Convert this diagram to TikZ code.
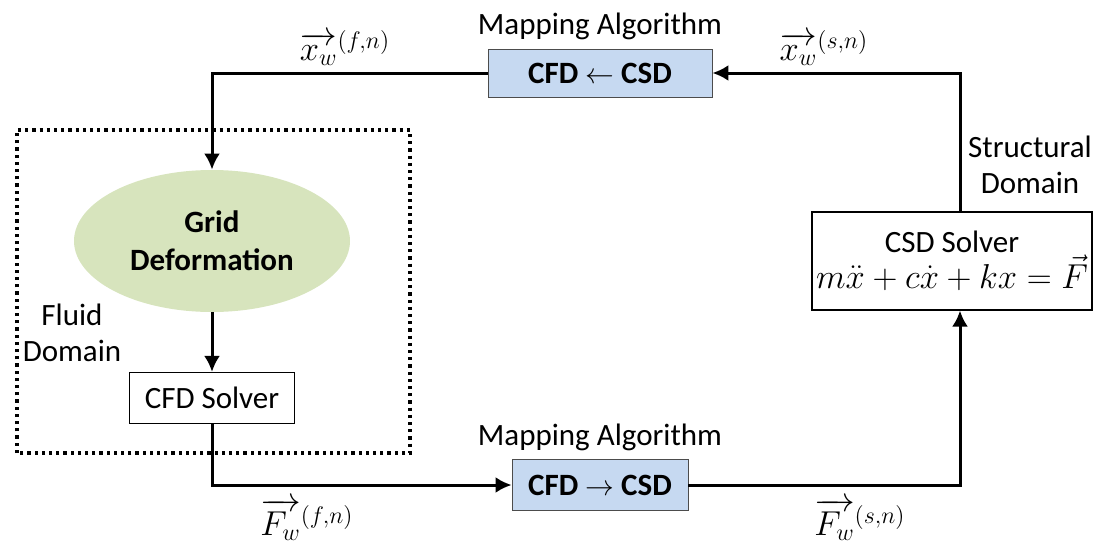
\documentclass[tikz,border=0pt]{standalone}
\usepackage{amsmath}
\usepackage{fontspec}
\setmainfont{Carlito}
\usetikzlibrary{arrows.meta,positioning,shapes.geometric}
\definecolor{mapblue}{RGB}{198,217,241}
\definecolor{gridgreen}{RGB}{215,228,189}

\begin{document}
\begin{tikzpicture}[x=0.5pt,y=0.5pt,
  every node/.style={font=\fontsize{15.5}{18}\selectfont,align=center,inner sep=2pt},
  flow/.style={-{Latex[length=8pt,width=8pt]},line width=1.5pt},
  mapbox/.style={draw=black!70,fill=mapblue,font=\fontsize{15.5}{18}\selectfont\bfseries,minimum height=24pt},
  solverbox/.style={draw,fill=white,line width=0.6pt},
  veclabel/.style={font=\fontsize{17.5}{20}\selectfont}]
\useasboundingbox (0,0) rectangle (1094,543);
% fluid domain
\draw[dotted,line width=1.6pt] (17,90) rectangle (410,413);
\node[ellipse,fill=gridgreen,minimum width=138pt,minimum height=71pt,font=\fontsize{15.5}{19}\selectfont\bfseries] (grid) at (212,302) {Grid\\Deformation};
\node[solverbox,minimum width=82.5pt,minimum height=25.5pt] (cfd) at (212,145) {CFD Solver};
\node (fluid) at (72,210) {Fluid\\Domain};
% structural domain
\node[solverbox,minimum width=140pt,minimum height=49pt] (csd) at (952,282) {CSD Solver\\{\fontsize{17}{20}\selectfont$m\ddot{x}+c\dot{x}+kx=\vec{F}$}};
\node (struct) at (1030,378) {Structural\\Domain};
% mapping
\node[mapbox,minimum width=112pt] (mapL) at (600,470) {CFD $\leftarrow$ CSD};
\node[mapbox,minimum width=88pt,minimum height=25.5pt] (mapR) at (600,58) {CFD $\rightarrow$ CSD};
\node[above=2pt of mapL] (algL) {Mapping Algorithm};
\node[above=2pt of mapR] (algR) {Mapping Algorithm};
% vector labels
\node[veclabel] (xf) at (345,495) {$\overrightarrow{x_w}^{(f,n)}$};
\node[veclabel] (xs) at (824,495) {$\overrightarrow{x_w}^{(s,n)}$};
\node[veclabel] (Ff) at (307,23) {$\overrightarrow{F_w}^{(f,n)}$};
\node[veclabel] (Fs) at (860,23) {$\overrightarrow{F_w}^{(s,n)}$};
% loop
\draw[flow] (mapL.west) -| (grid.north);
\draw[flow] (grid.south) -- (cfd.north);
\draw[flow] (cfd.south) |- (mapR.west);
\draw[flow] (mapR.east) -| ([xshift=4pt]csd.south);
\draw[flow] ([xshift=4pt]csd.north) |- (mapL.east);
\end{tikzpicture}
\end{document}
